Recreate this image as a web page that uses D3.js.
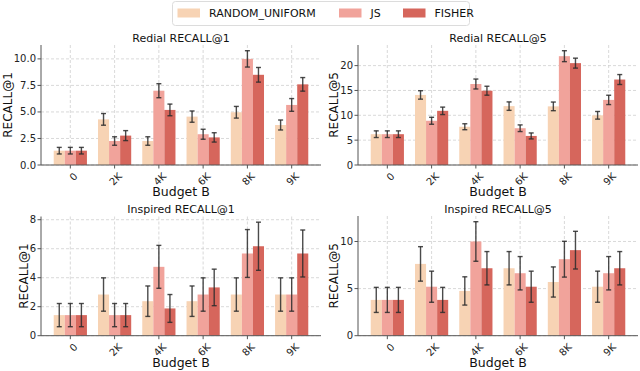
<!DOCTYPE html>
<html>
<head>
<meta charset="utf-8">
<script src="https://cdn.jsdelivr.net/npm/d3@7"></script>
<style>
  body { margin: 0; background: #fff; }
  svg { font-family: "DejaVu Sans", sans-serif; display: block; }
</style>
</head>
<body>
<div id="chart"></div>
<script>
// data
const budgets = ["0", "2K", "4K", "6K", "8K", "9K"];
const methods = ["RANDOM_UNIFORM", "JS", "FISHER"];
const colors = ["#f7d3b4", "#f1a39b", "#d6665c"];

// Redial RECALL@1
const redialR1 = [
    [1.35, 4.3, 2.26, 4.56, 4.97, 3.77],
    [1.35, 2.26, 7.0, 2.9, 10.0, 5.66],
    [1.35, 2.77, 5.19, 2.6, 8.5, 7.6]
];
const redialR1Err = [
    [0.31, 0.55, 0.4, 0.53, 0.55, 0.47],
    [0.31, 0.4, 0.66, 0.47, 0.77, 0.6],
    [0.31, 0.47, 0.55, 0.44, 0.69, 0.64]
];
// Redial RECALL@5
const redialR5 = [
    [6.2, 14.1, 7.7, 11.85, 11.8, 10.0],
    [6.2, 8.9, 16.3, 7.4, 21.9, 13.1],
    [6.2, 10.9, 14.95, 5.85, 20.5, 17.2]
];
const redialR5Err = [
    [0.67, 0.85, 0.6, 0.85, 0.87, 0.77],
    [0.67, 0.7, 1.0, 0.67, 1.1, 0.94],
    [0.67, 0.75, 0.9, 0.6, 1.0, 1.0]
];
// Inspired RECALL@1
const inspiredR1 = [
    [1.42, 2.84, 2.38, 2.38, 2.84, 2.84],
    [1.42, 1.42, 4.75, 2.84, 5.67, 2.84],
    [1.42, 1.42, 1.88, 3.33, 6.17, 5.67]
];
const inspiredR1Err = [
    [0.8, 1.15, 1.05, 1.05, 1.15, 1.15],
    [0.8, 0.8, 1.48, 1.15, 1.65, 1.15],
    [0.8, 0.8, 0.96, 1.26, 1.66, 1.62]
];
// Inspired RECALL@5
const inspiredR5 = [
    [3.8, 7.62, 4.75, 7.16, 5.7, 5.2],
    [3.8, 5.2, 10.0, 6.63, 8.12, 6.63],
    [3.8, 3.8, 7.16, 5.2, 9.08, 7.16]
];
const inspiredR5Err = [
    [1.33, 1.83, 1.5, 1.77, 1.6, 1.65],
    [1.33, 1.65, 2.1, 1.77, 1.9, 1.77],
    [1.33, 1.33, 1.77, 1.65, 2.0, 1.77]
];

const panels = [
    { title: "Redial RECALL@1", ylabel: "RECALL@1", vals: redialR1, errs: redialR1Err,
      ticks: [0, 2.5, 5, 7.5, 10], fmt: d3.format(".1f"), x0: 41, x1: 321, y0: 45, y1: 165 },
    { title: "Redial RECALL@5", ylabel: "RECALL@5", vals: redialR5, errs: redialR5Err,
      ticks: [0, 5, 10, 15, 20], fmt: d3.format("d"), x0: 358, x1: 638, y0: 45, y1: 165 },
    { title: "Inspired RECALL@1", ylabel: "RECALL@1", vals: inspiredR1, errs: inspiredR1Err,
      ticks: [0, 2, 4, 6, 8], fmt: d3.format("d"), x0: 41, x1: 321, y0: 216.5, y1: 335.7 },
    { title: "Inspired RECALL@5", ylabel: "RECALL@5", vals: inspiredR5, errs: inspiredR5Err,
      ticks: [0, 5, 10], fmt: d3.format("d"), x0: 358, x1: 638, y0: 216, y1: 335.7 }
];

const width = 640, height = 371;
const svg = d3.select("#chart").append("svg")
    .attr("width", width)
    .attr("height", height);

const barW = 0.25;

panels.forEach(p => {
    const g = svg.append("g");

    // matplotlib-like x range: bars span -0.375..5.375 plus 5% margin
    const x = d3.scaleLinear()
        .domain([-0.375 - 0.2875, 5.375 + 0.2875])
        .range([p.x0, p.x1]);
    let top = 0;
    p.vals.forEach((s, i) => s.forEach((v, j) => { top = Math.max(top, v + p.errs[i][j]); }));
    const y = d3.scaleLinear()
        .domain([0, top * 1.05])
        .range([p.y1, p.y0]);

    // grid
    g.append("g").selectAll("line")
        .data(budgets)
        .join("line")
        .attr("x1", (d, i) => x(i)).attr("x2", (d, i) => x(i))
        .attr("y1", p.y0).attr("y2", p.y1)
        .attr("stroke", "#cfcfcf").attr("stroke-width", 0.8)
        .attr("stroke-dasharray", "3,2");
    g.append("g").selectAll("line")
        .data(p.ticks)
        .join("line")
        .attr("x1", p.x0).attr("x2", p.x1)
        .attr("y1", d => y(d)).attr("y2", d => y(d))
        .attr("stroke", "#cfcfcf").attr("stroke-width", 0.8)
        .attr("stroke-dasharray", "3,2");

    // bars
    methods.forEach((m, mi) => {
        const off = (mi - 1) * barW;
        g.append("g").selectAll("rect")
            .data(p.vals[mi])
            .join("rect")
            .attr("x", (d, i) => x(i + off - barW / 2))
            .attr("width", x(barW) - x(0))
            .attr("y", d => y(d))
            .attr("height", d => p.y1 - y(d))
            .attr("fill", colors[mi]);
    });

    // error bars
    methods.forEach((m, mi) => {
        const off = (mi - 1) * barW;
        const eg = g.append("g")
            .attr("stroke", "#2b2b2b")
            .attr("stroke-opacity", 0.85)
            .attr("stroke-width", 1.4);
        p.vals[mi].forEach((v, i) => {
            const e = p.errs[mi][i];
            const cx = x(i + off);
            eg.append("line")
                .attr("x1", cx).attr("x2", cx)
                .attr("y1", y(v - e)).attr("y2", y(v + e));
            [v - e, v + e].forEach(yy => {
                eg.append("line")
                    .attr("x1", cx - 2.5).attr("x2", cx + 2.5)
                    .attr("y1", y(yy)).attr("y2", y(yy));
            });
        });
    });

    // spines
    g.append("line")
        .attr("x1", p.x0).attr("x2", p.x0)
        .attr("y1", p.y0).attr("y2", p.y1)
        .attr("stroke", "#555").attr("stroke-width", 1);
    g.append("line")
        .attr("x1", p.x0).attr("x2", p.x1)
        .attr("y1", p.y1).attr("y2", p.y1)
        .attr("stroke", "#555").attr("stroke-width", 1);

    // x ticks
    budgets.forEach((b, i) => {
        g.append("line")
            .attr("x1", x(i)).attr("x2", x(i))
            .attr("y1", p.y1).attr("y2", p.y1 + 3.5)
            .attr("stroke", "#555");
        g.append("text")
            .attr("transform", `translate(${x(i) + 3},${p.y1 + 7}) rotate(-45)`)
            .attr("text-anchor", "end")
            .attr("dy", "0.7em")
            .attr("font-size", 10)
            .attr("fill", "#222")
            .text(b);
    });

    // y ticks
    let maxW = 0;
    p.ticks.forEach(t => {
        g.append("line")
            .attr("x1", p.x0 - 3.5).attr("x2", p.x0)
            .attr("y1", y(t)).attr("y2", y(t))
            .attr("stroke", "#555");
        const tx = g.append("text")
            .attr("x", p.x0 - 5)
            .attr("y", y(t))
            .attr("dy", "0.35em")
            .attr("text-anchor", "end")
            .attr("font-size", 10)
            .attr("fill", "#222")
            .text(p.fmt(t));
        maxW = Math.max(maxW, tx.node().getComputedTextLength());
    });

    // labels
    g.append("text")
        .attr("transform", `translate(${p.x0 - 5 - maxW - 2},${(p.y0 + p.y1) / 2}) rotate(-90)`)
        .attr("text-anchor", "middle")
        .attr("font-size", 12)
        .attr("fill", "#111")
        .text(p.ylabel);
    g.append("text")
        .attr("x", (p.x0 + p.x1) / 2)
        .attr("y", p.y1 + 27)
        .attr("dy", "0.35em")
        .attr("text-anchor", "middle")
        .attr("font-size", 12.5)
        .attr("fill", "#111")
        .text("Budget B");
    g.append("text")
        .attr("x", (p.x0 + p.x1) / 2)
        .attr("y", p.y0 - 7)
        .attr("dy", "0.35em")
        .attr("text-anchor", "middle")
        .attr("font-size", 11)
        .attr("fill", "#111")
        .text(p.title);
});

// legend
const legend = svg.append("g");
legend.append("rect")
    .attr("x", 172.5).attr("y", 1.5)
    .attr("width", 297).attr("height", 24)
    .attr("rx", 3)
    .attr("fill", "#fff")
    .attr("stroke", "#dcdcdc");
const legendX = [177.5, 339, 403];
methods.forEach((m, i) => {
    legend.append("rect")
        .attr("x", legendX[i]).attr("y", 8.5)
        .attr("width", 22.5).attr("height", 9)
        .attr("fill", colors[i]);
    legend.append("text")
        .attr("x", legendX[i] + 31.5)
        .attr("y", 13)
        .attr("dy", "0.35em")
        .attr("font-size", 11)
        .attr("fill", "#111")
        .text(m);
});
</script>
</body>
</html>
